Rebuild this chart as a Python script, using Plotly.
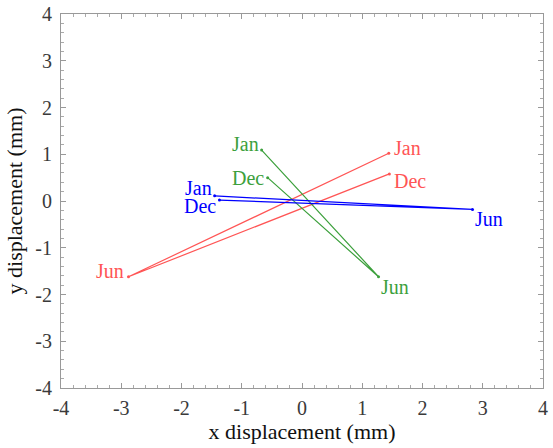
import plotly.graph_objects as go

months = ["Jan", "Jun", "Dec"]
red_x = [1.44, -2.88, 1.45]
red_y = [1.02, -1.62, 0.58]
green_x = [-0.67, 1.27, -0.57]
green_y = [1.09, -1.62, 0.50]
blue_x = [-1.45, 2.83, -1.37]
blue_y = [0.11, -0.18, 0.02]
tick_vals = [-4, -3, -2, -1, 0, 1, 2, 3, 4]
tick_text = ["-4", "-3", "-2", "-1", "0", "1", "2", "3", "4"]

series = [
    (red_x, red_y, "rgb(255,85,85)",
     [("left", 3, 5), ("right", -2, 6), ("left", 3, -7)]),
    (green_x, green_y, "rgb(60,160,60)",
     [("right", -1, 6), ("left", 0, -10), ("right", -2, 0)]),
    (blue_x, blue_y, "rgb(0,0,255)",
     [("right", -1, 8), ("left", 0, -10), ("right", -1, -6)]),
]

fig = go.Figure()
font_family = "Liberation Serif"
for xs, ys, col, pos in series:
    fig.add_trace(go.Scatter(x=xs, y=ys, mode="lines+markers",
                             line=dict(color=col, width=1.2),
                             marker=dict(color=col, size=3),
                             showlegend=False, hoverinfo="skip"))
    for m, xv, yv, (xa, xs_, ys_) in zip(months, xs, ys, pos):
        fig.add_annotation(x=xv, y=yv, text=m, showarrow=False,
                           xanchor=xa, yanchor="middle", xshift=xs_, yshift=ys_,
                           font=dict(family=font_family, size=20, color=col))

axis_common = dict(range=[-4, 4], tickvals=tick_vals, ticktext=tick_text,
                   ticks="inside", ticklen=5, automargin=False,
                   tickcolor="#999999", showgrid=False, zeroline=False,
                   showline=True, linecolor="#999999", linewidth=1, mirror="ticks",
                   minor=dict(dtick=0.2, ticks="inside", ticklen=3, tickcolor="#aaaaaa"),
                   tickfont=dict(family=font_family, size=20, color="#3a3a3a"))

fig.update_xaxes(**axis_common, ticklabelstandoff=2,
                 title=dict(text="x displacement (mm)", standoff=2,
                            font=dict(family=font_family, size=22, color="#111111")))
fig.update_yaxes(**axis_common, ticklabelstandoff=4,
                 title=dict(text="y displacement (mm)", standoff=6,
                            font=dict(family=font_family, size=22, color="#111111")))

fig.update_layout(width=553, height=448, plot_bgcolor="white", paper_bgcolor="white",
                  margin=dict(l=61, r=10, t=14, b=60))

fig.write_html("out.html", config={"displayModeBar": False},
               post_script="document.body.style.margin='0px';")
